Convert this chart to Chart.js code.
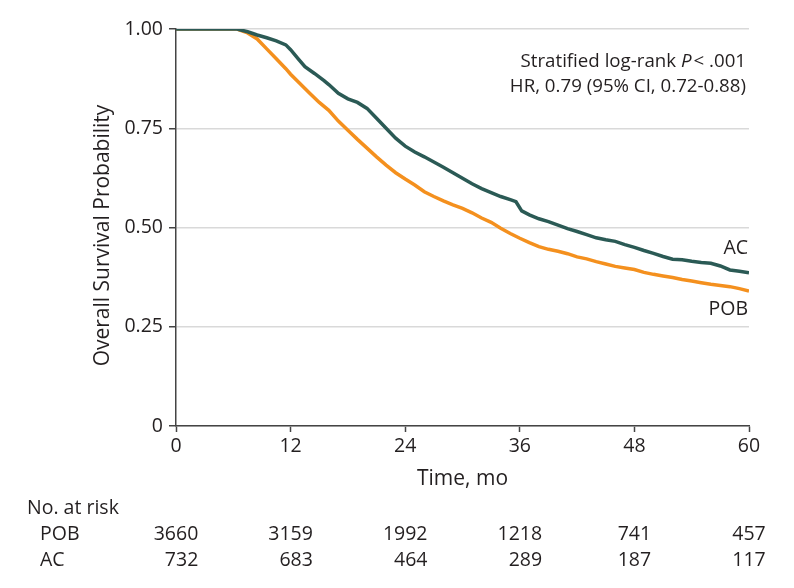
<!DOCTYPE html>
<html>
<head>
<meta charset="utf-8">
<script src="https://cdn.jsdelivr.net/npm/chart.js@4.4.1/dist/chart.umd.min.js"></script>
<style>
  html, body { margin: 0; padding: 0; background: #ffffff; }
  #wrap { position: relative; width: 794px; height: 588px; }
</style>
</head>
<body>
<div id="wrap"><canvas id="c" width="794" height="588"></canvas></div>
<script>
// ---- data ----
const timeTicks = [0, 12, 24, 36, 48, 60];
const yTicks = [0, 0.25, 0.5, 0.75, 1.0];

const timesPOB = [0, 6.4, 7.5, 8.5, 9.5, 10.5, 11.5, 12, 13, 14, 15, 16, 17, 18, 19, 20, 21, 22, 23, 24, 25, 26, 27, 28, 29, 30, 31, 32, 33, 34, 35, 36, 37, 38, 39, 40, 41, 42, 43, 44, 45, 46, 47, 48, 49, 50, 51, 52, 53, 54, 55, 56, 57, 58, 59, 60];
const survPOB  = [1.0, 1.0, 0.99, 0.975, 0.95, 0.925, 0.90, 0.886, 0.862, 0.838, 0.815, 0.795, 0.768, 0.745, 0.722, 0.70, 0.678, 0.657, 0.638, 0.622, 0.607, 0.59, 0.578, 0.567, 0.557, 0.548, 0.537, 0.524, 0.513, 0.498, 0.485, 0.473, 0.462, 0.452, 0.445, 0.44, 0.434, 0.426, 0.421, 0.414, 0.408, 0.402, 0.398, 0.394, 0.387, 0.382, 0.378, 0.374, 0.369, 0.365, 0.361, 0.357, 0.354, 0.351, 0.346, 0.34];

const timesAC = [0, 6.4, 7.5, 8.5, 9.5, 10.5, 11.5, 12, 12.8, 13.5, 14.5, 15.5, 16, 17, 18, 19, 20, 21, 22, 23, 24, 25, 26, 27, 28, 29, 30, 31, 32, 33, 34, 35, 35.6, 36.2, 37, 38, 39, 40, 41, 42, 43, 44, 45, 46, 47, 48, 49, 50, 51, 52, 53, 54, 55, 56, 57, 58, 59, 60];
const survAC  = [1.0, 1.0, 0.993, 0.985, 0.978, 0.97, 0.96, 0.948, 0.925, 0.905, 0.888, 0.87, 0.86, 0.838, 0.824, 0.815, 0.80, 0.775, 0.75, 0.725, 0.705, 0.69, 0.678, 0.665, 0.652, 0.638, 0.624, 0.61, 0.598, 0.588, 0.578, 0.57, 0.565, 0.542, 0.532, 0.522, 0.515, 0.506, 0.497, 0.49, 0.482, 0.474, 0.469, 0.465, 0.457, 0.45, 0.442, 0.435, 0.427, 0.42, 0.419, 0.415, 0.412, 0.41, 0.403, 0.393, 0.39, 0.386];

const riskPOB = [3660, 3159, 1992, 1218, 741, 457];
const riskAC  = [732, 683, 464, 289, 187, 117];

const seriesNames = ['POB', 'AC'];
// ---------------------------------------

const FONT = '"Open Sans", "Noto Sans", sans-serif';
const FS = 19.5;      // ticks, risk table, labels
const FS_TITLE = 21;  // axis titles
const FS_NOTE = 18.7; // annotation
const TXT = '#231f20';
const ORANGE = '#f4901e';
const GREEN = '#2b5a55';

function pts(t, s) { return t.map((v, i) => ({ x: v, y: s[i] })); }

const extras = {
  id: 'extras',
  afterDraw(chart) {
    const ctx = chart.ctx;
    const xs = chart.scales.x;
    const ca = chart.chartArea;
    ctx.save();
    ctx.fillStyle = TXT;
    ctx.textBaseline = 'middle';

    // y-axis title
    ctx.font = FS_TITLE + 'px ' + FONT;
    ctx.save();
    ctx.translate(103, (ca.top + ca.bottom) / 2 + 8);
    ctx.rotate(-Math.PI / 2);
    ctx.textAlign = 'center';
    ctx.fillText('Overall Survival Probability', 0, 0);
    ctx.restore();

    // x-axis title
    ctx.textAlign = 'center';
    ctx.fillText('Time, mo', (ca.left + ca.right) / 2, 479);

    // annotation
    ctx.font = FS_NOTE + 'px ' + FONT;
    const rx = ca.right - 3;
    ctx.textAlign = 'right';
    const tail = '< .001';
    ctx.fillText(tail, rx, 62);
    const wTail = ctx.measureText(tail).width;
    ctx.font = 'italic ' + FS_NOTE + 'px ' + FONT;
    ctx.fillText('P', rx - wTail - 2, 62);
    const wP = ctx.measureText('P').width;
    ctx.font = FS_NOTE + 'px ' + FONT;
    ctx.fillText('Stratified log-rank ', rx - wTail - 2 - wP, 62);
    ctx.fillText('HR, 0.79 (95% CI, 0.72-0.88)', rx, 87);

    // curve labels
    ctx.font = FS + 'px ' + FONT;
    ctx.fillText('AC', ca.right - 1, 248);
    ctx.fillText('POB', ca.right - 1, 309);

    // risk table
    ctx.textAlign = 'left';
    ctx.fillText('No. at risk', 27, 508);
    ctx.fillText(seriesNames[0], 40, 534);
    ctx.fillText(seriesNames[1], 40, 560);
    ctx.textAlign = 'right';
    timeTicks.forEach((t, i) => {
      const px = xs.getPixelForValue(t);
      const w = ctx.measureText(String(riskPOB[i])).width;
      const r = px + w / 2;
      ctx.fillText(String(riskPOB[i]), r, 534);
      ctx.fillText(String(riskAC[i]), r, 560);
    });
    ctx.restore();
  }
};

new Chart(document.getElementById('c'), {
  type: 'line',
  data: {
    datasets: [
      { label: seriesNames[1], data: pts(timesAC, survAC), borderColor: GREEN, borderWidth: 3.5, pointRadius: 0, tension: 0, fill: false },
      { label: seriesNames[0], data: pts(timesPOB, survPOB), borderColor: ORANGE, borderWidth: 3.5, pointRadius: 0, tension: 0, fill: false }
    ]
  },
  options: {
    responsive: false,
    animation: false,
    layout: { padding: { left: 0, right: 45, top: 29, bottom: 0 } },
    plugins: { legend: { display: false }, tooltip: { enabled: false } },
    scales: {
      x: {
        type: 'linear', min: 0, max: 60,
        afterBuildTicks(s) { s.ticks = timeTicks.map(v => ({ value: v })); },
        afterFit(s) { s.height = 162; },
        ticks: { color: TXT, font: { family: FONT, size: FS }, padding: 3, maxRotation: 0 },
        grid: { display: true, drawOnChartArea: false, drawTicks: true, tickLength: 6, tickColor: '#444', tickWidth: 1.5 },
        border: { display: true, color: '#444', width: 1.5 }
      },
      y: {
        type: 'linear', min: 0, max: 1,
        afterBuildTicks(s) { s.ticks = yTicks.map(v => ({ value: v })); },
        afterFit(s) { s.width = 176; },
        ticks: { color: TXT, font: { family: FONT, size: FS }, padding: 6,
                 callback: v => v === 0 ? '0' : Number(v).toFixed(2) },
        grid: { display: true, drawOnChartArea: true, color: '#d9d9d9', lineWidth: 1.5, drawTicks: true, tickLength: 7, tickColor: '#444', tickWidth: 1.5 },
        border: { display: true, color: '#444', width: 1.5 }
      }
    }
  },
  plugins: [extras]
});
</script>
</body>
</html>
